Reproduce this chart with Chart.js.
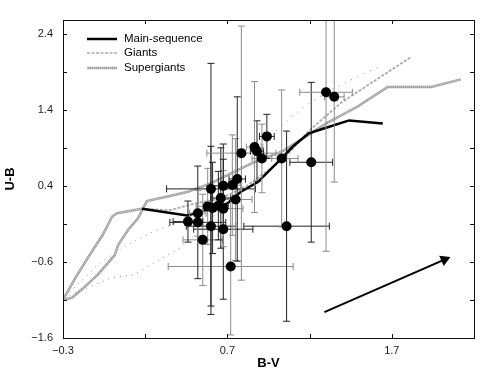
<!DOCTYPE html>
<html>
<head>
<meta charset="utf-8">
<script src="https://cdn.jsdelivr.net/npm/chart.js@4.4.0/dist/chart.umd.min.js"></script>
<style>
  html, body { margin: 0; padding: 0; background: #fff; }
</style>
</head>
<body>
<canvas id="grafico" width="493" height="374"></canvas>
<script>
// clusters: B-V, U-B and their errors
const bv = [1.30, 1.35, 0.94, 0.865, 0.88, 0.785, 0.91, 1.03, 1.21, 0.76, 0.73, 0.675, 0.60, 0.66, 0.75, 0.58, 0.61, 0.645, 0.675, 0.52, 0.46, 0.52, 0.60, 0.675, 0.55, 1.06, 0.72]
const ub = [1.63, 1.57, 1.05, 0.91, 0.855, 0.83, 0.76, 0.76, 0.71, 0.49, 0.41, 0.40, 0.36, 0.24, 0.22, 0.13, 0.11, 0.14, 0.10, 0.04, -0.07, -0.08, -0.13, -0.17, -0.31, -0.13, -0.66]
const errBV = [0.16, 0.06, 0.045, 0.05, 0.04, 0.21, 0.06, 0.10, 0.13, 0.05, 0.05, 0.08, 0.27, 0.06, 0.10, 0.07, 0.05, 0.06, 0.12, 0.05, 0.09, 0.17, 0.15, 0.18, 0.12, 0.26, 0.38]
const errUB = [2.09, 1.12, 0.29, 0.86, 0.40, 1.67, 0.45, 0.90, 1.05, 1.08, 0.66, 0.55, 1.65, 0.66, 0.80, 0.50, 0.60, 0.45, 0.50, 0.30, 0.27, 0.74, 1.05, 0.92, 0.60, 1.25, 0.90]

// main sequence
const msBV = [0.18, 0.455, 0.535, 0.70, 0.78, 0.885, 1.02, 1.10, 1.195, 1.31, 1.44, 1.645]
const msUB = [0.10, 0.01, 0.06, 0.17, 0.32, 0.45, 0.74, 0.92, 1.09, 1.17, 1.26, 1.22]

// supergiants (two tracks)
const sg1BV = [-0.30, -0.245, -0.185, -0.09, -0.025, 0.015, 0.035, 0.095, 0.155, 0.21, 0.335, 0.455, 0.595, 0.84, 1.04, 1.31, 1.49, 1.675, 1.94, 2.12]
const sg1UB = [-1.10, -1.07, -0.96, -0.77, -0.61, -0.51, -0.38, -0.18, -0.03, 0.20, 0.26, 0.32, 0.43, 0.69, 0.86, 1.23, 1.44, 1.70, 1.70, 1.80]
const sg2BV = [-0.30, -0.23, -0.15, -0.06, 0.0, 0.03, 0.18]
const sg2UB = [-1.10, -0.83, -0.55, -0.25, 0.0, 0.04, 0.10]

// giants (one dense track, sparse dotted tracks)
const g1BV = [0.18, 0.35, 0.505, 0.655, 0.82, 1.04, 1.19, 1.39, 1.63, 1.815]
const g1UB = [0.10, 0.08, 0.17, 0.23, 0.40, 0.75, 1.11, 1.49, 1.83, 2.09]
const g2BV = [-0.26, -0.01, 0.13, 0.23, 0.335, 0.41, 0.535, 0.655]
const g2UB = [-1.04, -0.81, -0.77, -0.64, -0.51, -0.42, -0.18, 0.08]
const g3BV = [-0.26, -0.075, 0.08, 0.23, 0.385, 0.535]
const g3UB = [-1.00, -0.61, -0.39, -0.22, -0.09, 0.06]
const g4BV = [0.90, 1.02, 1.16, 1.33, 1.45, 1.615]
const g4UB = [0.945, 1.17, 1.43, 1.66, 1.79, 1.96]

// reddening vector
const arrowBV = [1.29, 2.02]
const arrowUB = [-1.26, -0.57]

const xTicks = [-0.3, 0.2, 0.7, 1.2, 1.7, 2.2]
const xLabels = [-0.3, 0.7, 1.7]
const yTicks = [-1.6, -1.1, -0.6, -0.1, 0.4, 0.9, 1.4, 1.9, 2.4]
const yLabels = [-1.6, -0.6, 0.4, 1.4, 2.4]

const grayBars = [0, 1, 3, 5, 6, 7, 10, 14, 15, 18, 19, 24, 26]

const pts = (xs, ys) => xs.map((x, i) => ({ x: x, y: ys[i] }))
const fmt = v => (v < 0 ? '\u2212' : '') + Math.abs(v).toFixed(1)
const hasLabel = (list, v) => list.some(l => Math.abs(l - v) < 1e-6)

function line(data, color, width, dash, order) {
  return {
    data: data, showLine: true, borderColor: color, borderWidth: width,
    borderDash: dash || [], pointRadius: 0, order: order, fill: false
  }
}

const datasets = []

// cluster dots
datasets.push({
  data: pts(bv, ub), pointRadius: 5, pointBackgroundColor: '#000',
  pointBorderColor: '#000', pointBorderWidth: 0, order: 0
})

// error bars
bv.forEach((x, i) => {
  const c = grayBars.includes(i) ? '#8c8c8c' : '#222'
  datasets.push({
    data: [{ x: x, y: ub[i] - errUB[i] }, { x: x, y: ub[i] + errUB[i] }],
    showLine: true, borderColor: c, borderWidth: 1, pointStyle: 'line',
    pointRadius: 3.5, pointBorderColor: c, pointBorderWidth: 1, order: 1
  })
  datasets.push({
    data: [{ x: x - errBV[i], y: ub[i] }, { x: x + errBV[i], y: ub[i] }],
    showLine: true, borderColor: c, borderWidth: 1, pointStyle: 'line',
    pointRotation: 90, pointRadius: 3.5, pointBorderColor: c, pointBorderWidth: 1, order: 1
  })
})

datasets.push(line(pts(msBV, msUB), '#000', 2.5, null, 2))
datasets.push(line(pts(sg1BV, sg1UB), '#e6e6e6', 1, [1, 1], 3))
datasets.push(line(pts(sg1BV, sg1UB), '#9c9c9c', 2.5, null, 4))
datasets.push(line(pts(sg2BV, sg2UB), '#e6e6e6', 1, [1, 1], 3))
datasets.push(line(pts(sg2BV, sg2UB), '#9c9c9c', 2.5, null, 4))
datasets.push(line(pts(g1BV, g1UB), '#ababab', 1.8, [3, 1.5], 4))
datasets.push(line(pts(g2BV, g2UB), '#8a8a8a', 1, [1, 5], 4))
datasets.push(line(pts(g3BV, g3UB), '#8a8a8a', 1, [1, 5], 4))
datasets.push(line(pts(g4BV, g4UB), '#8a8a8a', 1, [1, 6], 4))

// arrow
datasets.push({
  data: pts(arrowBV, arrowUB), showLine: true, borderColor: '#000', borderWidth: 2,
  pointStyle: 'triangle', pointRadius: [0, 4.5], pointRotation: [0, 66],
  pointBackgroundColor: '#000', pointBorderColor: '#000', order: 0
})

const frame = {
  id: 'frame',
  afterDraw(chart) {
    const ctx = chart.ctx
    const a = chart.chartArea
    const xs = chart.scales.x
    const ys = chart.scales.y
    ctx.save()
    ctx.strokeStyle = '#111'
    ctx.lineWidth = 1
    ctx.strokeRect(a.left + 0.5, a.top + 0.5, a.right - a.left, a.bottom - a.top)
    ctx.beginPath()
    xTicks.forEach(v => {
      const p = Math.round(xs.getPixelForValue(v)) + 0.5
      ctx.moveTo(p, a.bottom); ctx.lineTo(p, a.bottom - 4)
      ctx.moveTo(p, a.top); ctx.lineTo(p, a.top + 4)
    })
    yTicks.forEach(v => {
      const p = Math.round(ys.getPixelForValue(v)) + 0.5
      ctx.moveTo(a.left, p); ctx.lineTo(a.left + 4, p)
      ctx.moveTo(a.right, p); ctx.lineTo(a.right - 4, p)
    })
    ctx.stroke()

    // legend
    const lx = a.left + 24
    const rows = [a.top + 19, a.top + 33, a.top + 48]
    ctx.lineCap = 'butt'
    ctx.beginPath(); ctx.strokeStyle = '#000'; ctx.lineWidth = 2.5
    ctx.moveTo(lx, rows[0]); ctx.lineTo(lx + 30, rows[0]); ctx.stroke()
    ctx.beginPath(); ctx.strokeStyle = '#ababab'; ctx.lineWidth = 1.5; ctx.setLineDash([3, 1.5])
    ctx.moveTo(lx, rows[1]); ctx.lineTo(lx + 30, rows[1]); ctx.stroke()
    ctx.setLineDash([])
    ctx.beginPath(); ctx.strokeStyle = '#9c9c9c'; ctx.lineWidth = 2.5
    ctx.moveTo(lx, rows[2]); ctx.lineTo(lx + 30, rows[2]); ctx.stroke()
    ctx.beginPath(); ctx.strokeStyle = '#e6e6e6'; ctx.lineWidth = 1; ctx.setLineDash([1, 1])
    ctx.moveTo(lx, rows[2]); ctx.lineTo(lx + 30, rows[2]); ctx.stroke()
    ctx.setLineDash([])
    ctx.fillStyle = '#000'
    ctx.font = '11.5px "Liberation Sans", Arial, sans-serif'
    ctx.textBaseline = 'middle'
    ctx.fillText('Main-sequence', lx + 37, rows[0])
    ctx.fillText('Giants', lx + 37, rows[1])
    ctx.fillText('Supergiants', lx + 37, rows[2])
    ctx.restore()
  }
}

new Chart(document.getElementById('grafico'), {
  type: 'scatter',
  data: { datasets: datasets },
  options: {
    responsive: false,
    animation: false,
    events: [],
    layout: { padding: { top: 20, right: 19, left: 0, bottom: 0 } },
    plugins: { legend: { display: false }, tooltip: { enabled: false } },
    scales: {
      x: {
        type: 'linear', min: -0.3, max: 2.2,
        afterBuildTicks: s => { s.ticks = xTicks.map(v => ({ value: v })) },
        afterFit: s => { s.height = 36 },
        grid: { display: false, drawTicks: false },
        border: { display: false },
        ticks: {
          padding: 6, color: '#222', maxRotation: 0, autoSkip: false,
          font: { family: '"Liberation Sans", Arial, sans-serif', size: 11 },
          callback: v => hasLabel(xLabels, v) ? fmt(v) : ''
        },
        title: {
          display: true, text: 'B-V', color: '#000',
          font: { family: '"Liberation Sans", Arial, sans-serif', size: 13, weight: 'bold' },
          padding: { top: 0, bottom: 3 }
        }
      },
      y: {
        type: 'linear', min: -1.6, max: 2.58,
        afterBuildTicks: s => { s.ticks = yTicks.map(v => ({ value: v })) },
        afterFit: s => { s.width = 63 },
        grid: { display: false, drawTicks: false },
        border: { display: false },
        ticks: {
          padding: 10, color: '#222', autoSkip: false,
          font: { family: '"Liberation Sans", Arial, sans-serif', size: 11 },
          callback: v => hasLabel(yLabels, v) ? fmt(v) : ''
        },
        title: {
          display: true, text: 'U-B', color: '#000',
          font: { family: '"Liberation Sans", Arial, sans-serif', size: 13, weight: 'bold' },
          padding: { top: 3, bottom: 0 }
        }
      }
    }
  },
  plugins: [frame]
})
</script>
</body>
</html>
